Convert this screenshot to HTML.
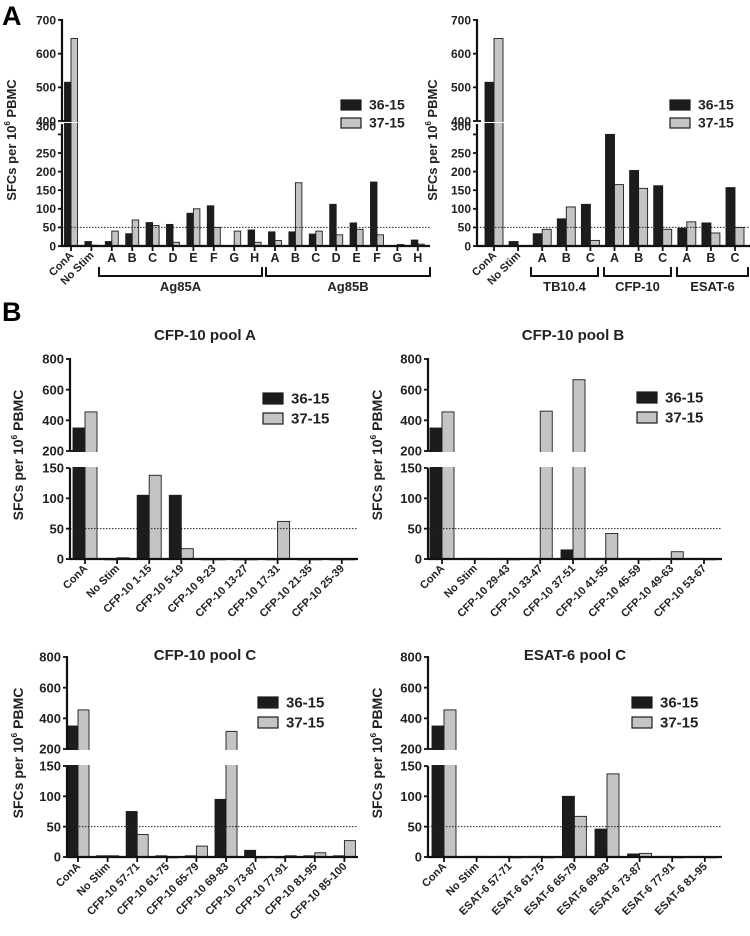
<!DOCTYPE html>
<html><head><meta charset="utf-8"><style>
body{margin:0;background:#fff}
svg{display:block;font-family:"Liberation Sans",Arial,sans-serif;font-weight:bold}
</style></head><body>
<svg id="fig" width="750" height="936" viewBox="0 0 750 936">
<text x="2" y="25" font-size="27">A</text>
<text x="2" y="321" font-size="27">B</text>
</svg>
<script>
// ---- data ----
const catsA1 = ["ConA","No Stim","A","B","C","D","E","F","G","H","A","B","C","D","E","F","G","H"];
const a1_3615 = [515,12,12,33,63,58,88,108,1,43,38,38,32,112,62,172,1,16];
const a1_3715 = [645,2,40,70,55,10,100,50,40,10,15,170,40,30,45,30,4,5];
const catsA2 = ["ConA","No Stim","A","B","C","A","B","C","A","B","C"];
const a2_3615 = [515,12,33,73,112,300,203,162,48,62,157];
const a2_3715 = [645,1,45,105,15,165,155,45,65,35,50];
const catsPA = ["ConA","No Stim","CFP-10 1-15","CFP-10 5-19","CFP-10 9-23","CFP-10 13-27","CFP-10 17-31","CFP-10 21-35","CFP-10 25-39"];
const pa_3615 = [350,0,105,105,0,0,0,0,0];
const pa_3715 = [455,2,138,17,0,0,62,0,0];
const catsPB = ["ConA","No Stim","CFP-10 29-43","CFP-10 33-47","CFP-10 37-51","CFP-10 41-55","CFP-10 45-59","CFP-10 49-63","CFP-10 53-67"];
const pb_3615 = [350,1,1,1,15,1,1,1,1];
const pb_3715 = [455,1,0,460,665,42,0,12,0];
const catsPC = ["ConA","No Stim","CFP-10 57-71","CFP-10 61-75","CFP-10 65-79","CFP-10 69-83","CFP-10 73-87","CFP-10 77-91","CFP-10 81-95","CFP-10 85-100"];
const pc_3615 = [350,2,75,2,2,95,11,0,2,2];
const pc_3715 = [455,2,37,0,18,315,0,2,7,27];
const catsPE = ["ConA","No Stim","ESAT-6 57-71","ESAT-6 61-75","ESAT-6 65-79","ESAT-6 69-83","ESAT-6 73-87","ESAT-6 77-91","ESAT-6 81-95"];
const pe_3615 = [350,1,1,1,100,46,5,1,1];
const pe_3715 = [455,1,0,0,67,137,6,0,0];
const ticksA_bot = [0,50,100,150,200,250,300];
const ticksA_top = [400,500,600,700];
const ticksB_bot = [0,50,100,150];
const ticksB_top = [200,400,600,800];
const threshold = 50;
const seriesNames = ["36-15","37-15"];

const svg = document.getElementById('fig');
const NS = 'http://www.w3.org/2000/svg';
function mk(tag, attrs, parent){
  const e = document.createElementNS(NS, tag);
  for (const k in attrs) e.setAttribute(k, attrs[k]);
  (parent||svg).appendChild(e);
  return e;
}

function panel(c){
  const g = mk('g', {});
  
  
  const yBot = v => c.y0 - v*c.bs;
  const yTop = v => c.yTopMin - (v - c.topMin)*(c.yTopMin - c.yTopMax)/(c.topMax - c.topMin);
  const cx = i => c.cx0 + c.dx*i;
  const botMax = (c.y0 - c.botTop)/c.bs;
  [c.s1, c.s2].forEach((arr, si) => {
    arr.forEach((v, i) => {
      const x = si === 0 ? cx(i) - c.bw : cx(i);
      const fill = si === 0 ? '#1c1c1c' : '#c4c4c4';
      let yv;
      if (v <= botMax) yv = yBot(v);
      else yv = yTop(Math.max(v, c.topMin));
      const r = mk('rect', {x:x, y:yv, width:c.bw, height:Math.max(0.8, c.y0 - yv), fill:fill, stroke:'#1c1c1c', 'stroke-width':0.9}, g);
      
      
    });
  });
  // break gap
  mk('rect', {x:c.x0 - 12, y:c.yTopMin + 1, width:c.xEnd - c.x0 + 12, height:c.botTop - c.yTopMin - 2, fill:'#fff'}, g);
  const th = mk('line', {x1:c.x0, x2:c.xEnd, y1:yBot(threshold), y2:yBot(threshold), stroke:'#222', 'stroke-width':1, 'stroke-dasharray':'1.5,1.5'}, g);
  
  
  mk('line', {x1:c.x0, x2:c.x0, y1:c.y0 + 1, y2:c.botTop, stroke:'#111', 'stroke-width':2.2}, g);
  mk('line', {x1:c.x0, x2:c.x0, y1:c.yTopMin, y2:c.yTopMax - 1, stroke:'#111', 'stroke-width':2.2}, g);
  mk('line', {x1:c.x0, x2:c.xEnd, y1:c.y0, y2:c.y0, stroke:'#111', 'stroke-width':2.2}, g);
  c.tb.forEach(t => {
    const y = yBot(t);
    mk('line', {x1:c.x0 - 4, x2:c.x0, y1:y, y2:y, stroke:'#111', 'stroke-width':1.8}, g);
    const ly = (t === c.tb[c.tb.length - 1] && c.squash) ? y - 8 : y;
    const tx = mk('text', {x:c.x0 - 6, y:ly + c.tf*0.36, 'font-size':c.tf, 'text-anchor':'end', fill:'#222'}, g);
    tx.textContent = t;
    
    
  });
  c.tt.forEach(t => {
    const y = yTop(t);
    mk('line', {x1:c.x0 - 4, x2:c.x0 + (t === c.topMin ? 4 : 0), y1:y, y2:y, stroke:'#111', 'stroke-width':1.8}, g);
    const tx = mk('text', {x:c.x0 - 6, y:y + c.tf*0.36, 'font-size':c.tf, 'text-anchor':'end', fill:'#222'}, g);
    tx.textContent = t;
    
    
  });
  const yt = mk('text', {x:0, y:0, 'font-size':c.yf, 'text-anchor':'middle', fill:'#222', transform:'translate(' + c.ytx + ',' + c.yty + ') rotate(-90)'}, g);
  yt.innerHTML = 'SFCs per 10<tspan font-size="' + (c.yf*0.6) + '" dy="-6">6</tspan><tspan dy="6"> PBMC</tspan>';
  
  
  c.cats.forEach((lab, i) => {
    const x = cx(i);
    mk('line', {x1:x, x2:x, y1:c.y0, y2:c.y0 + 5, stroke:'#111', 'stroke-width':1.8}, g);
    let tx;
    if (c.letters && i >= 2) {
      tx = mk('text', {x:x, y:c.y0 + 16, 'font-size':12.5, 'text-anchor':'middle', fill:'#222'}, g);
    } else {
      tx = mk('text', {x:0, y:0, 'font-size':c.xf, 'text-anchor':'end', fill:'#222', transform:'translate(' + (x + 3) + ',' + (c.y0 + 10) + ') rotate(-45)'}, g);
    }
    tx.textContent = lab;
    
    
  });
  (c.groups || []).forEach(gr => {
    const x1 = gr.x1, x2 = gr.x2, yb = c.y0 + 30;
    const p = mk('path', {d:'M' + x1 + ',' + (yb - 9) + 'V' + yb + 'H' + x2 + 'V' + (yb - 9), fill:'none', stroke:'#111', 'stroke-width':2}, g);
    
    
    const tx = mk('text', {x:(x1 + x2)/2, y:yb + 15, 'font-size':13, 'text-anchor':'middle', fill:'#222'}, g);
    tx.textContent = gr.label;
    
    
  });
  if (c.title) {
    const tx = mk('text', {x:c.titleX, y:c.titleY, 'font-size':15, 'text-anchor':'middle', fill:'#222'}, g);
    tx.textContent = c.title;
    
    
  }
  seriesNames.forEach((s, si) => {
    const y = c.ly + si*c.lgap;
    const r = mk('rect', {x:c.lx, y:y, width:c.lw, height:c.lh, fill: si === 0 ? '#1c1c1c' : '#c4c4c4', stroke:'#1c1c1c', 'stroke-width':1.2}, g);
    
    
    const tx = mk('text', {x:c.lx + c.lw + 8, y:y + c.lh - 0.5, 'font-size':c.lf, fill:'#222'}, g);
    tx.textContent = s;
    
    
  });
}

const A = {y0:246, bs:0.372, botTop:124, topMin:400, topMax:700, yTopMin:121, yTopMax:20, tb:ticksA_bot, tt:ticksA_top, tf:12, xf:11, yf:13, squash:true, letters:true, lw:20, lh:10, lgap:18, lf:14};
panel(Object.assign({}, A, {name:'chart-a-ag85', x0:62, xEnd:430, cx0:71, dx:20.4, bw:6.5, cats:catsA1, s1:a1_3615, s2:a1_3715, ytx:16, yty:140,
  lx:341, ly:100, groups:[{x1:99, x2:262, label:'Ag85A'}, {x1:266, x2:430, label:'Ag85B'}]}));
panel(Object.assign({}, A, {name:'chart-a-esx', x0:477, xEnd:750, cx0:494, dx:24.1, bw:9, cats:catsA2, s1:a2_3615, s2:a2_3715, ytx:437, yty:140,
  lx:670, ly:100, groups:[{x1:531, x2:598, label:'TB10.4'}, {x1:604, x2:671, label:'CFP-10'}, {x1:677, x2:748, label:'ESAT-6'}]}));
function B(dy){ return {y0:559+dy, bs:91/150, botTop:468+dy, topMin:200, topMax:800, yTopMin:451+dy, yTopMax:359+dy, tb:ticksB_bot, tt:ticksB_top, tf:13, xf:11, yf:14, lw:20, lh:11, lgap:20, lf:15, squash:false}; }
panel(Object.assign(B(0), {name:'chart-cfp10-pool-a', x0:70, xEnd:358, cx0:85, dx:32.1, bw:12, cats:catsPA, s1:pa_3615, s2:pa_3715, ytx:23, yty:455,
  title:'CFP-10 pool A', titleX:205, titleY:340, lx:263, ly:393}));
panel(Object.assign(B(0), {name:'chart-cfp10-pool-b', x0:428, xEnd:722, cx0:442, dx:32.75, bw:12, cats:catsPB, s1:pb_3615, s2:pb_3715, ytx:382, yty:455,
  title:'CFP-10 pool B', titleX:573, titleY:340, lx:637, ly:392}));
panel(Object.assign(B(298), {name:'chart-cfp10-pool-c', x0:67, xEnd:358, cx0:78, dx:29.6, bw:11, cats:catsPC, s1:pc_3615, s2:pc_3715, ytx:23, yty:753,
  title:'CFP-10 pool C', titleX:205, titleY:660, lx:258, ly:697}));
panel(Object.assign(B(298), {name:'chart-esat6-pool-c', x0:428, xEnd:722, cx0:444, dx:32.6, bw:12, cats:catsPE, s1:pe_3615, s2:pe_3715, ytx:382, yty:753,
  title:'ESAT-6 pool C', titleX:575, titleY:660, lx:632, ly:697}));
</script>
</body></html>
